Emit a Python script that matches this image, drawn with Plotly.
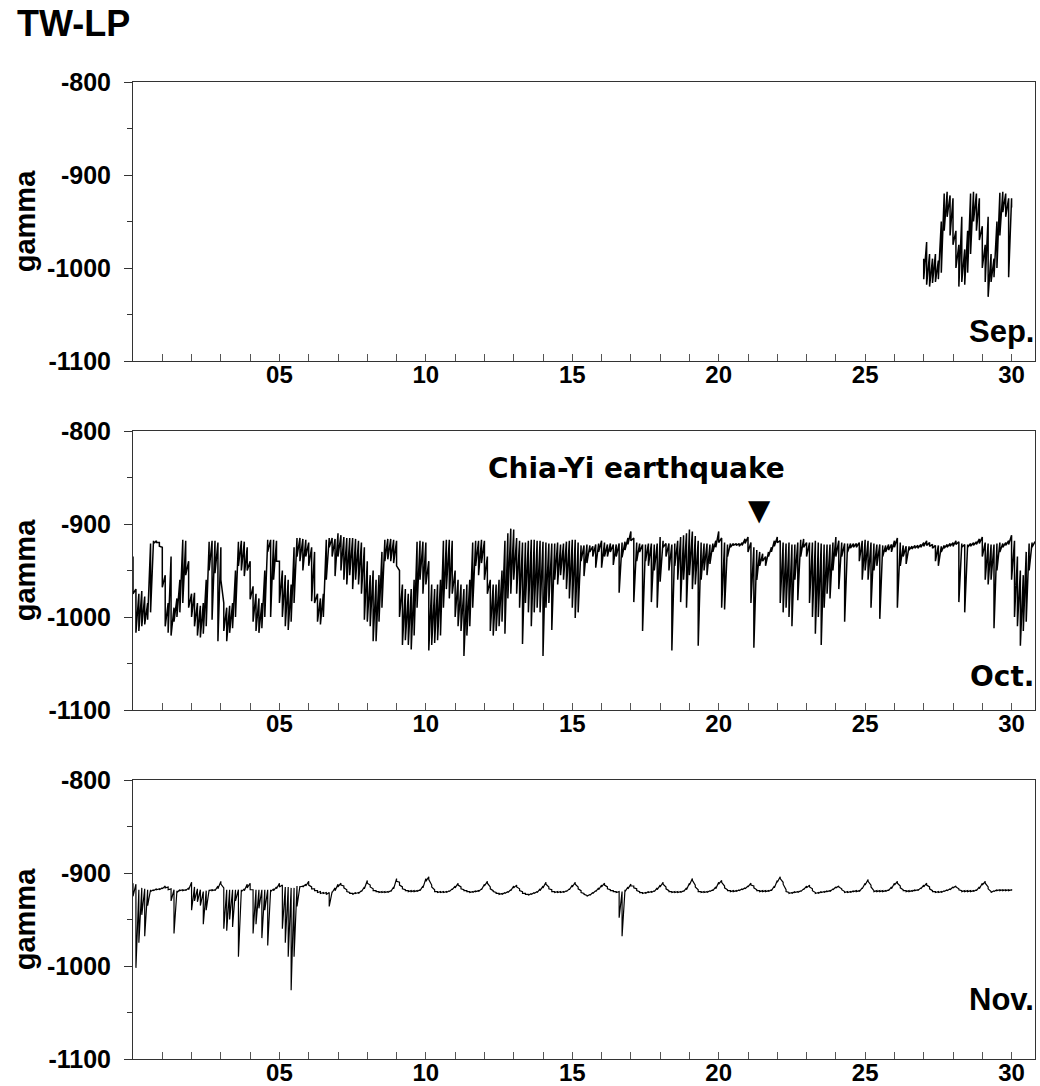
import plotly.graph_objects as go

# ---------------- data (0.1-day bins: upper / lower envelope) ----------------
step = 0.1

sep_start = 27.0
sep_hi = [-990, -972, -985, -990, -985, -992, -950, -920, -918, -922,
          -925, -960, -975, -945, -980, -960, -920, -918, -920, -925,
          -955, -975, -945, -985, -990, -950, -919, -918, -920, -925,
          -925]
sep_lo = [-1012, -1018, -1020, -1016, -1015, -1012, -1005, -960, -945, -965,
          -975, -1000, -1020, -1015, -1018, -1005, -985, -950, -960, -970,
          -1000, -1015, -1031, -1015, -1010, -1000, -965, -940, -945, -1010,
          -935]

oct_start = 0.0
oct_hi = [
    -935, -970, -975, -972, -978, -985, -921, -918, -918, -920,
    -925, -955, -985, -935, -990, -980, -960, -917, -918, -940,
    -975, -974, -985, -988, -985, -960, -919, -918, -918, -920,
    -925, -985, -990, -988, -985, -950, -919, -918, -919, -925,
    -940, -967, -975, -980, -985, -950, -917, -917, -917, -918,
    -940, -950, -955, -960, -965, -925, -915, -915, -916, -917,
    -920, -925, -930, -975, -980, -975, -917, -915, -915, -916,
    -910, -912, -914, -915, -915, -915, -916, -918, -920, -925,
    -940, -955, -950, -960, -955, -930, -917, -916, -916, -917,
    -918, -950, -965, -970, -975, -970, -960, -919, -918, -919,
    -920, -940, -965, -970, -965, -960, -918, -917, -917, -918,
    -950, -960, -965, -970, -965, -960, -920, -918, -918, -917,
    -918, -935, -960, -965, -965, -960, -950, -918, -910, -905,
    -906, -915, -918, -920, -920, -918, -917, -917, -918, -918,
    -919, -920, -921, -921, -921, -920, -922, -921, -919, -918,
    -917, -917, -920, -923, -923, -922, -923, -924, -922, -921,
    -918, -920, -922, -921, -922, -922, -921, -920, -919, -915,
    -908, -915, -920, -921, -922, -922, -921, -921, -922, -921,
    -914, -918, -921, -921, -922, -921, -918, -914, -912, -910,
    -906, -908, -913, -918, -920, -921, -921, -922, -921, -918,
    -908, -915, -920, -922, -921, -921, -921, -921, -920, -916,
    -914, -920, -925, -928, -930, -932, -935, -930, -925, -918,
    -914, -918, -920, -921, -920, -922, -922, -920, -917, -916,
    -920, -920, -920, -918, -920, -921, -922, -922, -922, -920,
    -914, -918, -920, -921, -921, -921, -921, -921, -920, -918,
    -917, -918, -920, -921, -922, -922, -923, -923, -922, -922,
    -918, -915, -920, -923, -924, -924, -924, -923, -923, -922,
    -920, -918, -920, -922, -923, -923, -924, -923, -922, -921,
    -920, -918, -919, -921, -922, -922, -921, -920, -919, -916,
    -914, -920, -921, -922, -922, -921, -920, -921, -920, -918,
    -912, -918, -935, -950, -955, -930, -921, -920, -919]
oct_lo = [
    -975, -1017, -1015, -1010, -1008, -1003, -995, -921, -920, -924,
    -968, -1010, -1017, -1020, -1005, -1000, -995, -985, -955, -990,
    -1000, -1010, -1020, -1022, -1018, -1010, -950, -1003, -953, -1026,
    -960, -1015, -1026, -1017, -1012, -1000, -945, -950, -956, -950,
    -981, -1005, -1015, -1017, -1012, -1000, -930, -1000, -960, -940,
    -985, -1000, -1010, -1014, -1005, -985, -935, -940, -950, -935,
    -945, -983, -985, -1005, -1008, -1000, -960, -925, -935, -956,
    -935, -950, -960, -965, -955, -970, -960, -965, -975, -1003,
    -1005, -1010, -1026, -1026, -1005, -990, -940, -938, -940, -942,
    -945, -1000, -1030, -1025, -1030, -1035, -1020, -990, -960, -975,
    -965, -1036, -1030, -1028, -1025, -1020, -990, -970, -980, -975,
    -1000, -1010, -1015, -1042, -1020, -1010, -990, -945, -955, -942,
    -960, -975, -1015, -1020, -1015, -1010, -1005, -1018, -980, -975,
    -960, -975, -990, -1029, -985, -995, -1010, -995, -990, -995,
    -1042, -990, -985, -1014, -960, -965, -955, -960, -970, -980,
    -990, -1001, -995, -940, -956, -942, -930, -935, -947, -930,
    -947, -935, -935, -930, -944, -935, -974, -936, -928, -922,
    -918, -984, -940, -930, -1015, -940, -945, -984, -950, -990,
    -962, -925, -935, -950, -1036, -945, -960, -984, -960, -990,
    -955, -970, -965, -1031, -960, -950, -955, -943, -930, -925,
    -920, -990, -992, -935, -925, -923, -923, -924, -923, -921,
    -930, -985, -1033, -960, -945, -940, -945, -935, -930, -924,
    -920, -985, -995, -990, -1000, -1010, -960, -982, -935, -925,
    -935, -985, -1000, -1018, -1000, -1030, -990, -975, -980, -950,
    -935, -970, -935, -1005, -930, -926, -925, -925, -940, -960,
    -950, -960, -990, -950, -945, -1002, -935, -930, -928, -930,
    -925, -990, -945, -935, -943, -928, -927, -926, -926, -925,
    -924, -923, -924, -926, -940, -945, -930, -926, -925, -924,
    -924, -922, -984, -925, -995, -925, -924, -923, -922, -921,
    -935, -960, -965, -960, -1012, -950, -930, -925, -923, -922,
    -960, -1000, -1010, -1031, -1015, -1005, -950, -925, -921]

nov_start = 0.0
nov_hi = [
    -911, -912, -918, -916, -917, -918, -918, -918, -917, -917,
    -916, -914, -915, -917, -918, -919, -918, -918, -918, -916,
    -910, -915, -917, -918, -920, -919, -918, -918, -918, -914,
    -909, -916, -918, -918, -918, -918, -918, -918, -917, -912,
    -911, -918, -918, -918, -918, -918, -918, -918, -917, -915,
    -911, -913, -915, -915, -916, -916, -914, -914, -914, -912,
    -909, -915, -917, -919, -920, -921, -921, -921, -920, -916,
    -912, -911, -914, -918, -921, -922, -921, -921, -919, -915,
    -908, -913, -917, -919, -920, -920, -920, -920, -919, -915,
    -906, -910, -915, -918, -919, -919, -919, -919, -918, -914,
    -906, -904, -913, -918, -920, -920, -920, -920, -919, -917,
    -914, -911, -915, -918, -919, -920, -920, -919, -919, -917,
    -912, -909, -915, -919, -921, -922, -922, -921, -920, -918,
    -914, -913, -917, -920, -922, -923, -922, -921, -920, -917,
    -914, -910, -915, -918, -920, -920, -920, -920, -919, -917,
    -913, -910, -915, -919, -922, -924, -923, -921, -919, -916,
    -913, -911, -915, -918, -919, -920, -920, -920, -918, -915,
    -912, -914, -917, -920, -921, -921, -920, -920, -919, -916,
    -913, -910, -915, -919, -920, -920, -920, -920, -919, -916,
    -911, -906, -913, -918, -920, -920, -920, -919, -918, -915,
    -910, -908, -914, -918, -919, -919, -919, -918, -917, -916,
    -914, -911, -914, -918, -919, -919, -919, -919, -918, -914,
    -908, -904, -910, -918, -921, -921, -920, -920, -919, -917,
    -914, -913, -917, -921, -921, -920, -920, -919, -919, -917,
    -915, -914, -917, -920, -920, -920, -919, -919, -919, -916,
    -911, -907, -913, -919, -919, -919, -919, -919, -918, -915,
    -911, -909, -914, -918, -919, -919, -919, -918, -918, -916,
    -913, -911, -915, -919, -920, -920, -920, -919, -918, -917,
    -915, -914, -917, -919, -919, -919, -919, -919, -918, -915,
    -911, -909, -915, -920, -919, -918, -918, -918, -918, -918,
    -918]
nov_lo = [
    -925, -1002, -975, -945, -968, -935, -920, -919, -918, -918,
    -917, -916, -918, -930, -965, -921, -919, -919, -919, -918,
    -940, -930, -931, -935, -955, -940, -919, -919, -919, -917,
    -912, -960, -962, -950, -958, -930, -990, -920, -919, -916,
    -918, -965, -955, -938, -970, -940, -978, -920, -919, -917,
    -915, -960, -975, -990, -1026, -990, -936, -915, -915, -914,
    -913, -917, -919, -921, -922, -922, -923, -936, -921, -919,
    -915, -913, -916, -920, -922, -923, -922, -922, -920, -917,
    -911, -915, -919, -920, -921, -921, -921, -921, -920, -917,
    -909, -913, -917, -919, -920, -920, -920, -920, -919, -916,
    -909, -907, -915, -920, -921, -921, -921, -921, -920, -918,
    -916, -913, -917, -919, -920, -921, -921, -920, -920, -918,
    -914, -911, -917, -920, -922, -923, -923, -922, -921, -919,
    -916, -915, -919, -922, -923, -924, -923, -922, -921, -919,
    -916, -912, -917, -920, -921, -921, -921, -921, -920, -918,
    -915, -912, -917, -921, -923, -925, -924, -922, -920, -918,
    -915, -913, -917, -919, -920, -921, -948, -968, -920, -917,
    -914, -916, -919, -921, -922, -922, -921, -921, -920, -918,
    -915, -912, -917, -920, -921, -921, -921, -921, -920, -918,
    -913, -908, -915, -920, -921, -921, -921, -920, -919, -917,
    -912, -910, -916, -919, -920, -920, -920, -919, -918, -917,
    -915, -913, -916, -919, -920, -920, -920, -920, -919, -916,
    -910, -906, -912, -920, -922, -922, -921, -921, -920, -918,
    -916, -915, -919, -922, -922, -921, -921, -920, -920, -918,
    -916, -915, -918, -921, -921, -921, -920, -920, -920, -917,
    -913, -909, -915, -920, -920, -920, -920, -920, -919, -917,
    -913, -911, -916, -919, -920, -920, -920, -919, -919, -917,
    -915, -913, -917, -920, -921, -921, -921, -920, -919, -918,
    -916, -915, -918, -920, -920, -920, -920, -920, -919, -917,
    -913, -911, -917, -921, -920, -919, -919, -919, -919, -919,
    -919]

month_labels = ["Sep.", "Oct.", "Nov."]
xtick_days = list(range(1, 31))
xtick_text = [("%02d" % d) if d % 5 == 0 else "" for d in xtick_days]
ytick_vals = [-1100, -1000, -900, -800]
ytick_text = ["-1100", "-1000", "-900", "-800"]
event_day = 21.4
event_label = "Chia-Yi earthquake"
station = "TW-LP"


def zigzag(start, hi, lo):
    xs, ys = [], []
    for i, (h, l) in enumerate(zip(hi, lo)):
        t = round(start + i * step, 2)
        xs += [t, t]
        ys += [h, l]
    return xs, ys


fig = go.Figure()
series = [(sep_start, sep_hi, sep_lo), (oct_start, oct_hi, oct_lo), (nov_start, nov_hi, nov_lo)]
widths = [1.5, 1.5, 1.2]
for k, (s, h, l) in enumerate(series):
    xs, ys = zigzag(s, h, l)
    fig.add_trace(go.Scatter(x=xs, y=ys, mode="lines", line=dict(color="black", width=widths[k]),
                             xaxis="x" if k == 0 else "x%d" % (k + 1),
                             yaxis="y" if k == 0 else "y%d" % (k + 1),
                             showlegend=False, hoverinfo="skip"))

# event marker
fig.add_annotation(x=event_day, y=-885, xref="x2", yref="y2", text="\u25bc", showarrow=False,
                   font=dict(family="DejaVu Sans", size=29, color="black"))
fig.add_annotation(x=17.18, y=-840, xref="x2", yref="y2", text=event_label, showarrow=False,
                   font=dict(family="DejaVu Sans", size=28, color="black", weight="bold"))

H = 1086.0
top, bot = 82, 27
plot_h = H - top - bot
panels = [(82, 361), (431, 710), (780, 1059)]
doms = [[1 - (b - top) / plot_h, 1 - (t - top) / plot_h] for t, b in panels]

tickfont = dict(family="Liberation Sans, Arial", size=25, color="black", weight="bold")
xtickfont = dict(family="Liberation Sans, Arial", size=24, color="black", weight="bold")
layout = dict(width=1040, height=1086, plot_bgcolor="white", paper_bgcolor="white",
              margin=dict(l=133, r=5, t=top, b=bot, autoexpand=False), showlegend=False)
for k in range(3):
    sx = "" if k == 0 else str(k + 1)
    layout["xaxis" + sx] = dict(domain=[0, 1], anchor="y" + sx, range=[0, 30.8],
                                tickvals=xtick_days, ticktext=xtick_text, ticks="inside",
                                ticklen=7, tickcolor="#555", tickwidth=1,
                                showline=True, linecolor="#333", linewidth=1, mirror=True,
                                showgrid=False, zeroline=False, tickfont=xtickfont,
                                ticklabelstandoff=-8, automargin=False)
    layout["yaxis" + sx] = dict(domain=doms[k], anchor="x" + sx, range=[-1100, -800],
                                tickvals=ytick_vals, ticktext=ytick_text, ticks="outside", ticklen=8,
                                tickcolor="#333", showline=True, linecolor="#333", linewidth=1,
                                mirror=True, showgrid=False, zeroline=False,
                                minor=dict(dtick=50, tick0=-1100, ticks="outside", ticklen=5,
                                           tickcolor="#333", showgrid=False),
                                tickfont=tickfont, ticklabelstandoff=8, automargin=False)
fig.update_layout(**layout)

label_y = [0.105, 0.12, 0.215]
label_fonts = [dict(family="Liberation Sans, Arial", size=31, color="black", weight="bold"),
               dict(family="DejaVu Sans", size=28, color="black", weight="bold"),
               dict(family="Liberation Sans, Arial", size=31, color="black", weight="bold")]
for k in range(3):
    sx = "" if k == 0 else str(k + 1)
    fig.add_annotation(x=1.001, y=label_y[k], xref="x%s domain" % sx, yref="y%s domain" % sx,
                       text=month_labels[k], showarrow=False, xanchor="right", yanchor="middle",
                       font=label_fonts[k])
    fig.add_annotation(x=-0.12, y=0.5, xref="paper", yref="y%s domain" % sx,
                       text="gamma", textangle=-90, showarrow=False,
                       xanchor="center", yanchor="middle",
                       font=dict(family="Liberation Sans, Arial", size=29, color="black", weight="bold"))

fig.add_annotation(x=-0.1308, y=1.06, xref="paper", yref="paper", text=station, showarrow=False,
                   xanchor="left", yanchor="middle",
                   font=dict(family="Liberation Sans, Arial", size=36, color="black", weight="bold"))

fig.write_html("out.html", config={"displayModeBar": False},
               post_script="document.body.style.margin='0';document.body.style.overflow='hidden';")
